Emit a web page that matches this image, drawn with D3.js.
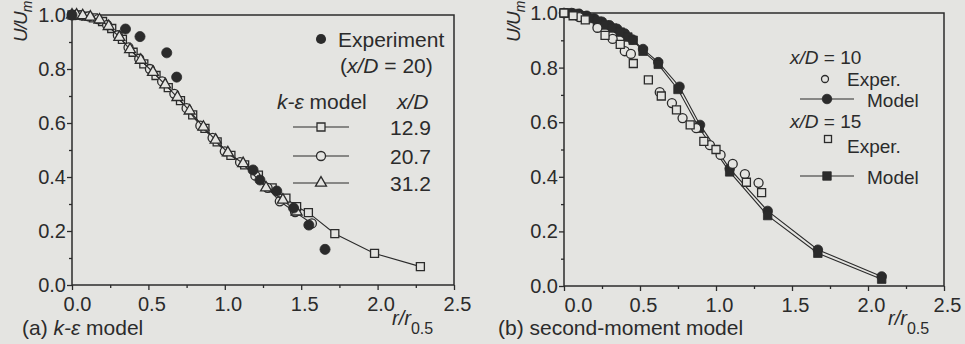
<!DOCTYPE html>
<html>
<head>
<meta charset="utf-8">
<style>
body { margin: 0; background: #e4e4e1; }
svg { display: block; }
text { font-family: "Liberation Sans", Arial, Helvetica, sans-serif; fill: #2b2b2b; }
</style>
</head>
<body>
<svg width="965" height="344"></svg>
<script src="https://cdn.jsdelivr.net/npm/d3@7"></script>
<script>

// ticks
var xTicks = [0, 0.5, 1.0, 1.5, 2.0, 2.5],
    xMinor = [0.25, 0.75, 1.25, 1.75, 2.25],
    yTicks = [0, 0.2, 0.4, 0.6, 0.8, 1.0],
    yMinor = [0.1, 0.3, 0.5, 0.7, 0.9];

// (a) k-e model, [r/r0.5, U/Um]
var expA = [[0, 1.0], [0.35, 0.948], [0.445, 0.92], [0.62, 0.86], [0.685, 0.77], [1.185, 0.426],
            [1.23, 0.389], [1.34, 0.348], [1.45, 0.285], [1.55, 0.222], [1.656, 0.132]];
var ke129 = [[0, 1.0], [0.04, 1.0], [0.09, 0.996], [0.14, 0.989], [0.2, 0.976], [0.26, 0.95], [0.33, 0.91],
             [0.4, 0.862], [0.47, 0.819], [0.55, 0.776], [0.63, 0.731], [0.71, 0.683], [0.79, 0.63],
             [0.87, 0.58], [0.95, 0.53], [1.04, 0.48], [1.13, 0.445], [1.22, 0.407], [1.31, 0.36],
             [1.4, 0.322], [1.47, 0.29], [1.547, 0.268], [1.72, 0.19], [1.98, 0.117], [2.28, 0.068]];
var ke207 = [[0, 1.0], [0.02, 1.0], [0.06, 0.999], [0.11, 0.995], [0.17, 0.985], [0.23, 0.963], [0.3, 0.925],
             [0.37, 0.88], [0.44, 0.838], [0.51, 0.8], [0.59, 0.754], [0.67, 0.708], [0.75, 0.655],
             [0.84, 0.59], [0.92, 0.545], [1.0, 0.495], [1.1, 0.455], [1.2, 0.405], [1.28, 0.36],
             [1.36, 0.31], [1.46, 0.27], [1.57, 0.228]];
var ke312 = [[0, 1.0], [0.03, 1.0], [0.07, 0.998], [0.12, 0.993], [0.18, 0.982], [0.24, 0.958], [0.31, 0.918],
             [0.38, 0.872], [0.45, 0.833], [0.53, 0.788], [0.61, 0.742], [0.69, 0.695], [0.77, 0.645],
             [0.86, 0.585], [0.94, 0.537], [1.02, 0.49], [1.12, 0.45], [1.27, 0.36], [1.38, 0.315], [1.47, 0.271]];

// (b) second-moment model
var exp10 = [[0, 1.0], [0.1, 0.985], [0.22, 0.946], [0.32, 0.905], [0.4, 0.86], [0.44, 0.85], [0.63, 0.71],
             [0.71, 0.67], [0.78, 0.615], [0.87, 0.578], [0.96, 0.516], [1.03, 0.48], [1.11, 0.447],
             [1.19, 0.41], [1.28, 0.378]];
var exp15 = [[0, 1.0], [0.06, 0.99], [0.14, 0.975], [0.27, 0.918], [0.37, 0.885], [0.456, 0.815], [0.555, 0.755],
             [0.64, 0.696], [0.74, 0.645], [0.83, 0.59], [0.92, 0.53], [1.0, 0.5], [1.2, 0.38], [1.3, 0.342]];
var mod10 = [[0, 1.0], [0.05, 1.0], [0.1, 0.997], [0.15, 0.99], [0.2, 0.98], [0.25, 0.968], [0.3, 0.955],
             [0.35, 0.942], [0.4, 0.925], [0.45, 0.903], [0.52, 0.868], [0.62, 0.82], [0.76, 0.73],
             [0.895, 0.59], [1.09, 0.43], [1.34, 0.275], [1.67, 0.133], [2.09, 0.035]];
var mod15 = [[0, 1.0], [0.04, 1.0], [0.08, 0.998], [0.13, 0.99], [0.17, 0.98], [0.22, 0.97], [0.27, 0.956],
             [0.32, 0.945], [0.37, 0.93], [0.42, 0.912], [0.455, 0.9], [0.52, 0.86], [0.62, 0.812],
             [0.75, 0.72], [0.89, 0.578], [1.09, 0.418], [1.34, 0.258], [1.67, 0.12], [2.09, 0.025]];

var ink = "#2b2b2b", paper = "#e4e4e1";
var svg = d3.select("svg");
var fmt = d3.format(".1f");

var sym = {
  square: d3.symbol().type(d3.symbolSquare).size(64)(),
  circle: d3.symbol().type(d3.symbolCircle).size(64)(),
  triangle: d3.symbol().type(d3.symbolTriangle).size(52)(),
  dot: d3.symbol().type(d3.symbolCircle).size(80)(),
  fsquare: d3.symbol().type(d3.symbolSquare).size(72)(),
  fcircle: d3.symbol().type(d3.symbolCircle).size(72)()
};

function panel(x, y, firstDx) {
  var x0 = x.range()[0], x1 = x.range()[1], y0 = y.range()[0], y1 = y.range()[1];

  svg.append("rect")
      .attr("x", x0).attr("y", y1)
      .attr("width", x1 - x0).attr("height", y0 - y1)
      .attr("fill", "none").attr("stroke", ink).attr("stroke-width", 1.5);

  var gx = svg.append("g")
      .attr("transform", "translate(0," + y0 + ")")
      .call(d3.axisBottom(x).tickValues(xTicks).tickSize(5).tickPadding(7).tickFormat(fmt));
  svg.append("g")
      .attr("transform", "translate(0," + y0 + ")")
      .call(d3.axisBottom(x).tickValues(xMinor).tickSize(3).tickFormat(""));
  var gy = svg.append("g")
      .attr("transform", "translate(" + x0 + ",0)")
      .call(d3.axisLeft(y).tickValues(yTicks).tickSize(5).tickPadding(1).tickFormat(fmt));
  svg.append("g")
      .attr("transform", "translate(" + x0 + ",0)")
      .call(d3.axisLeft(y).tickValues(yMinor).tickSize(3).tickFormat(""));

  svg.selectAll(".domain").remove();
  svg.selectAll(".tick line").attr("stroke", ink).attr("stroke-width", 1.3);
  gx.attr("font-size", 20).attr("font-family", null);
  gy.attr("font-size", 20).attr("font-family", null);
  gx.selectAll("text").attr("dx", function(d) { return d === 0 ? firstDx : 3; });
}

function series(x, y, data, shape, filled, withLine) {
  var g = svg.append("g");
  if (withLine) {
    g.append("path")
        .datum(data)
        .attr("fill", "none").attr("stroke", ink).attr("stroke-width", 1.1)
        .attr("d", d3.line().x(function(d) { return x(d[0]); }).y(function(d) { return y(d[1]); }));
  }
  g.selectAll("path.m")
    .data(data)
    .enter().append("path")
      .attr("class", "m")
      .attr("d", sym[shape])
      .attr("transform", function(d) { return "translate(" + x(d[0]) + "," + y(d[1]) + ")"; })
      .attr("fill", filled ? ink : paper)
      .attr("stroke", ink).attr("stroke-width", filled ? 0.8 : 1.3);
}

function legendLine(x1, x2, yy, shape, filled) {
  svg.append("line").attr("x1", x1).attr("x2", x2).attr("y1", yy).attr("y2", yy)
      .attr("stroke", ink).attr("stroke-width", 1.1);
  svg.append("path").attr("d", sym[shape])
      .attr("transform", "translate(" + (x1 + x2) / 2 + "," + yy + ")")
      .attr("fill", filled ? ink : paper).attr("stroke", ink).attr("stroke-width", filled ? 0.8 : 1.3);
}

function yTitle(tx, ty) {
  var t = svg.append("text")
      .attr("transform", "translate(" + tx + "," + ty + ") rotate(-90)")
      .attr("font-size", 19).attr("font-style", "italic").attr("letter-spacing", -1);
  t.append("tspan").text("U/U");
  t.append("tspan").attr("font-size", 14).attr("dy", 5).text("m");
}

function xTitle(tx, ty) {
  var t = svg.append("text").attr("x", tx).attr("y", ty).attr("font-size", 20);
  t.append("tspan").attr("font-style", "italic").text("r/r");
  t.append("tspan").attr("font-size", 16).attr("dy", 9).text("0.5");
}

// ---- panel (a)
var xa = d3.scaleLinear().domain([0, 2.5]).range([72, 454]),
    ya = d3.scaleLinear().domain([0, 1]).range([285, 15]);
panel(xa, ya, 5);
series(xa, ya, ke129, "square", false, true);
series(xa, ya, ke207, "circle", false, true);
series(xa, ya, ke312, "triangle", false, true);
series(xa, ya, expA, "dot", true, false);
yTitle(27, 42);
xTitle(392, 325);

svg.append("path").attr("d", sym.dot).attr("transform", "translate(321,39)").attr("fill", ink);
svg.append("text").attr("x", 338).attr("y", 47).attr("font-size", 21).text("Experiment");
var ta = svg.append("text").attr("x", 340).attr("y", 73).attr("font-size", 21);
ta.append("tspan").text("(");
ta.append("tspan").attr("font-style", "italic").text("x/D");
ta.append("tspan").text(" = 20)");
var tk = svg.append("text").attr("x", 277).attr("y", 109).attr("font-size", 21);
tk.append("tspan").attr("font-style", "italic").text("k-ε");
tk.append("tspan").text(" model");
svg.append("text").attr("x", 397).attr("y", 109).attr("font-size", 21).attr("font-style", "italic").text("x/D");
[["12.9", "square", 127], ["20.7", "circle", 156], ["31.2", "triangle", 183]].forEach(function(r) {
  legendLine(293, 349, r[2], r[1], false);
  svg.append("text").attr("x", 390).attr("y", r[2] + 8).attr("font-size", 21).text(r[0]);
});
var capA = svg.append("text").attr("x", 22).attr("y", 335).attr("font-size", 21);
capA.append("tspan").text("(a) ");
capA.append("tspan").attr("font-style", "italic").text("k-ε");
capA.append("tspan").text(" model");

// ---- panel (b)
var xb = d3.scaleLinear().domain([0, 2.5]).range([564, 944]),
    yb = d3.scaleLinear().domain([0, 1]).range([286, 13]);
panel(xb, yb, 14);
series(xb, yb, mod10, "fcircle", true, true);
series(xb, yb, mod15, "fsquare", true, true);
series(xb, yb, exp10, "circle", false, false);
series(xb, yb, exp15, "square", false, false);
yTitle(520, 42);
xTitle(888, 325);

function xdLabel(tx, ty, v) {
  var t = svg.append("text").attr("x", tx).attr("y", ty).attr("font-size", 19);
  t.append("tspan").attr("font-style", "italic").text("x/D");
  t.append("tspan").text(" = " + v);
}
xdLabel(790, 64, "10");
svg.append("circle").attr("cx", 825).attr("cy", 79).attr("r", 3.5)
    .attr("fill", paper).attr("stroke", ink).attr("stroke-width", 1.3);
svg.append("text").attr("x", 847).attr("y", 85.5).attr("font-size", 19).text("Exper.");
legendLine(800, 854, 99, "fcircle", true);
svg.append("text").attr("x", 867).attr("y", 107).attr("font-size", 19).text("Model");
xdLabel(790, 128, "15");
svg.append("rect").attr("x", 824.5).attr("y", 135.5).attr("width", 7).attr("height", 7)
    .attr("fill", paper).attr("stroke", ink).attr("stroke-width", 1.3);
svg.append("text").attr("x", 847).attr("y", 153).attr("font-size", 19).text("Exper.");
legendLine(800, 854, 176, "fsquare", true);
svg.append("text").attr("x", 867).attr("y", 184).attr("font-size", 19).text("Model");

svg.append("text").attr("x", 498).attr("y", 335).attr("font-size", 21).text("(b) second-moment model");

</script>
</body>
</html>
